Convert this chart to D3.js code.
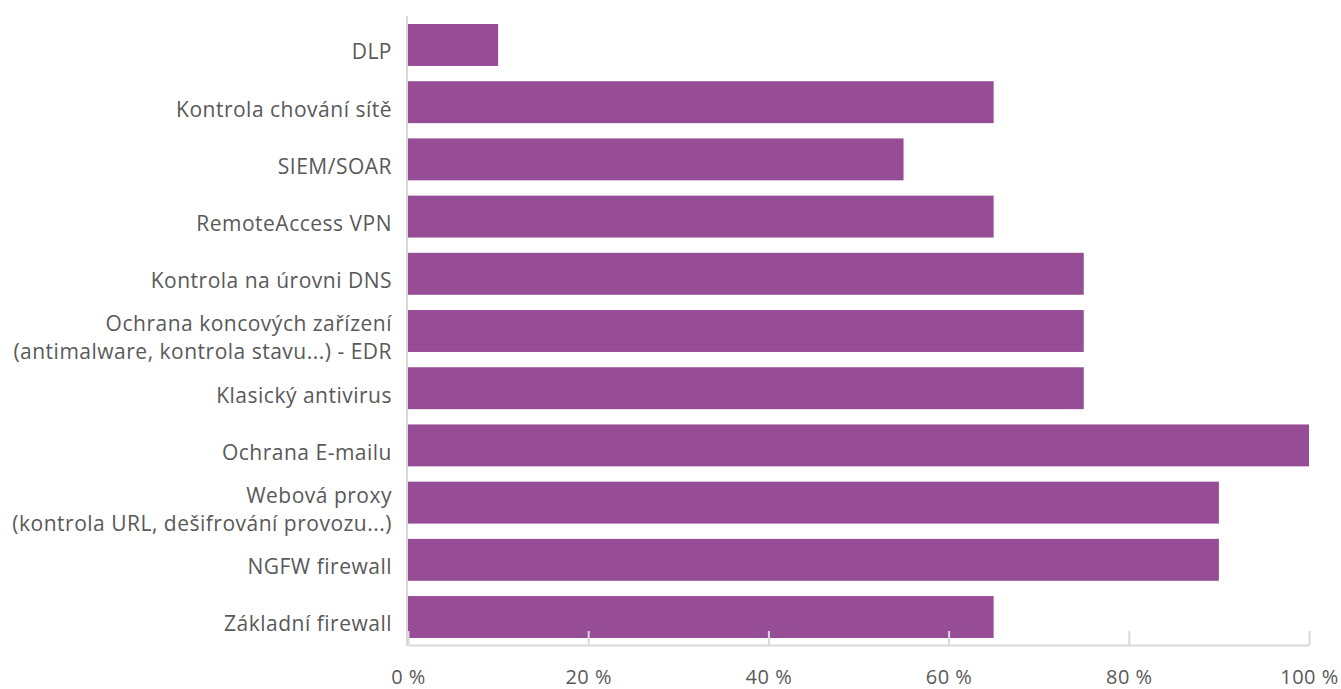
<!DOCTYPE html>
<html>
<head>
<meta charset="utf-8">
<script src="https://cdn.jsdelivr.net/npm/d3@7"></script>
<style>
  html, body { margin: 0; padding: 0; background: #fff; }
  svg { display: block; }
</style>
</head>
<body>
<svg id="chart" width="1341" height="689"></svg>
<script>
// Security technologies in use (share of respondents, %)
const categories = [
  ["DLP"],
  ["Kontrola chování sítě"],
  ["SIEM/SOAR"],
  ["RemoteAccess VPN"],
  ["Kontrola na úrovni DNS"],
  ["Ochrana koncových zařízení", "(antimalware, kontrola stavu...) - EDR"],
  ["Klasický antivirus"],
  ["Ochrana E-mailu"],
  ["Webová proxy", "(kontrola URL, dešifrování provozu...)"],
  ["NGFW firewall"],
  ["Základní firewall"]
];
const values = [10, 65, 55, 65, 75, 75, 75, 100, 90, 90, 65];
const xTicks = [0, 20, 40, 60, 80, 100];

const svg = d3.select("#chart");
const plotLeft = 408, plotRight = 1309, plotTop = 16, plotBottom = 646;
const fontFamily = "'Open Sans', Lato, sans-serif";
const fontSize = "21px";
const letterSpacing = "0.5px";
const textColor = "#595959";
const axisColor = "#d9d9d9";
const barColor = "#974c96";

const x = d3.scaleLinear().domain([0, 100]).range([plotLeft, plotRight]);
const y = d3.scaleBand().domain(d3.range(categories.length))
  .range([plotTop, plotBottom]).paddingInner(0.267).paddingOuter(0.14);

// bars
svg.append("g").selectAll("rect").data(values).join("rect")
  .attr("x", x(0))
  .attr("y", (d, i) => y(i))
  .attr("width", d => x(d) - x(0))
  .attr("height", y.bandwidth())
  .attr("fill", barColor);

// bottom axis with upward ticks
const xAxis = svg.append("g").attr("transform", `translate(0,${plotBottom - 1})`)
  .call(d3.axisBottom(x).tickValues(xTicks).tickSize(-14).tickSizeOuter(0).tickFormat(d => d + " %"));
xAxis.select(".domain").attr("stroke", axisColor).attr("stroke-width", 2);
xAxis.selectAll(".tick line").attr("stroke", axisColor).attr("stroke-width", 2);
xAxis.selectAll(".tick text")
  .attr("y", 32).attr("dy", "0.35em")
  .attr("fill", textColor)
  .style("font-family", fontFamily).style("font-size", "20px").style("letter-spacing", letterSpacing);

// left axis line
svg.append("line")
  .attr("x1", plotLeft - 1).attr("x2", plotLeft - 1)
  .attr("y1", plotTop).attr("y2", plotBottom)
  .attr("stroke", axisColor).attr("stroke-width", 2);

// category labels, sitting slightly below their bar's centre line
const lineHeight = 28;
const labelShift = 7;
const labels = svg.append("g").selectAll("text").data(categories).join("text")
  .attr("x", plotLeft - 16)
  .attr("y", (d, i) => y(i) + y.bandwidth() / 2 + labelShift - (d.length - 1) * lineHeight / 2)
  .attr("text-anchor", "end")
  .attr("fill", textColor)
  .style("font-family", fontFamily)
  .style("font-size", fontSize)
  .style("letter-spacing", letterSpacing);
labels.each(function(lines) {
  const t = d3.select(this);
  lines.forEach((line, k) => {
    t.append("tspan")
      .attr("x", plotLeft - 16)
      .attr("dy", k === 0 ? "0.35em" : lineHeight + "px")
      .text(line);
  });
});
</script>
</body>
</html>
